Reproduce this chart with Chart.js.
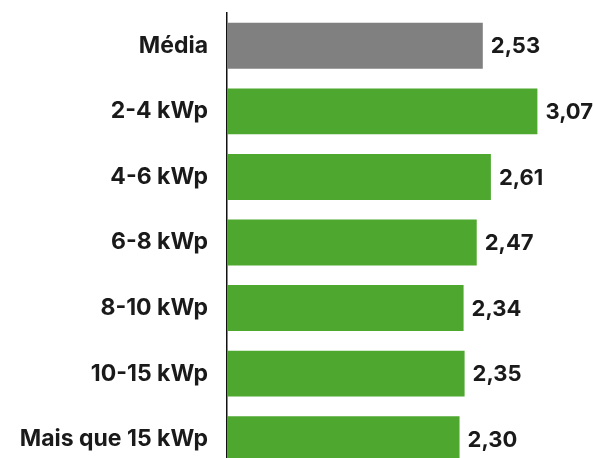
<!DOCTYPE html>
<html>
<head>
<meta charset="utf-8">
<script src="https://cdn.jsdelivr.net/npm/chart.js@4/dist/chart.umd.min.js"></script>
<style>
  html, body { margin: 0; padding: 0; background: #ffffff; overflow: hidden; }
</style>
</head>
<body>
<canvas id="c" width="593" height="472"></canvas>
<script>
const categories = ["Média", "2-4 kWp", "4-6 kWp", "6-8 kWp", "8-10 kWp", "10-15 kWp", "Mais que 15 kWp"];
const values = [2.53, 3.07, 2.61, 2.47, 2.34, 2.35, 2.30];
const barColors = ["#808080", "#4EA72E", "#4EA72E", "#4EA72E", "#4EA72E", "#4EA72E", "#4EA72E"];

const FONT = "Inter, 'Noto Sans', 'Liberation Sans', sans-serif";

const valueLabels = {
  id: 'valueLabels',
  afterDatasetsDraw(chart) {
    const ctx = chart.ctx;
    const meta = chart.getDatasetMeta(0);
    ctx.save();
    ctx.font = "700 22px " + FONT;
    ctx.fillStyle = "#1a1a1a";
    ctx.textAlign = "left";
    ctx.textBaseline = "middle";
    meta.data.forEach((bar, i) => {
      const txt = values[i].toFixed(2).replace('.', ',');
      ctx.fillText(txt, bar.x + 8, bar.y + 1);
    });
    ctx.restore();
  }
};

new Chart(document.getElementById('c'), {
  type: 'bar',
  data: {
    labels: categories,
    datasets: [{
      data: values,
      backgroundColor: barColors,
      borderWidth: 0,
      barPercentage: 0.7,
      categoryPercentage: 1.0
    }]
  },
  options: {
    indexAxis: 'y',
    responsive: false,
    animation: false,
    devicePixelRatio: 1,
    layout: { padding: { top: 13, right: 0, bottom: 0, left: 0 } },
    plugins: { legend: { display: false }, tooltip: { enabled: false } },
    scales: {
      x: { display: false, min: 0, max: 3.62 },
      y: {
        afterFit(scale) { scale.width = 227; scale.paddingTop = 0; scale.paddingBottom = 0; },
        grid: { display: false, drawTicks: false },
        border: { display: true, color: '#111111', width: 1.5 },
        ticks: { padding: 19, color: '#1a1a1a', font: { family: FONT, size: 23, weight: '700' } }
      }
    }
  },
  plugins: [valueLabels]
});
</script>
</body>
</html>
